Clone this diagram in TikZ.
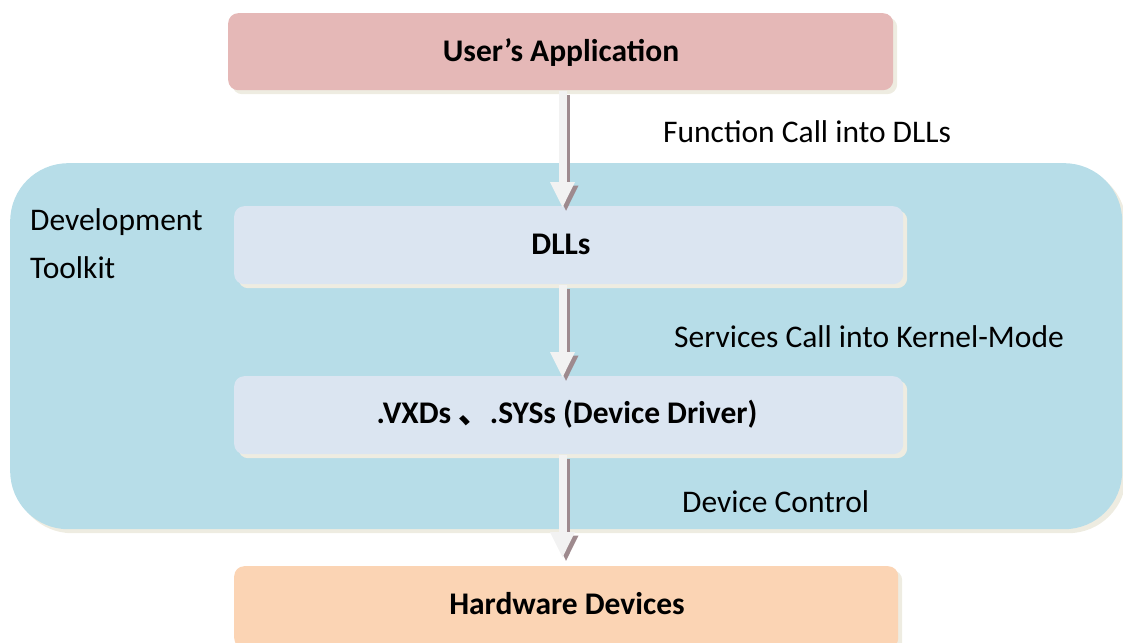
\documentclass[tikz,border=0pt]{standalone}
\usepackage{fontspec}
\setmainfont{Carlito}
\newfontfamily\cjk{Noto Sans CJK SC}
\usetikzlibrary{arrows.meta,shadows,calc}
\definecolor{pinkc}{HTML}{E5B8B7}
\definecolor{bluec}{HTML}{B7DDE8}
\definecolor{lightc}{HTML}{DBE5F1}
\definecolor{peachc}{HTML}{FBD4B4}
\definecolor{shadowc}{HTML}{EEECE1}
\definecolor{arrowc}{HTML}{F2F2F2}
\definecolor{arrowsh}{HTML}{9E8A8E}
\begin{document}
\begin{tikzpicture}[x=1pt,y=-1pt,
  box/.style={rounded corners=10pt, draw=none, inner sep=0pt, anchor=north west,
    drop shadow={shadow xshift=4pt, shadow yshift=-4pt, fill=shadowc, opacity=1}},
  lbl/.style={inner sep=0pt, font=\fontsize{31.5}{38}\selectfont},
  tipshape/.style={-{Triangle[width=23pt,length=26pt]}},
  arrsh/.style={draw=arrowsh, line width=8pt, tipshape},
  arr/.style={draw=arrowc, line width=8pt, tipshape}]
\useasboundingbox (0,0) rectangle (1123,642);
% main toolkit area
\node[box, rounded corners=58pt, fill=bluec, minimum width=1112pt, minimum height=366pt] (kit) at (10,163) {};
% boxes
\node[box, fill=pinkc, minimum width=665pt, minimum height=77pt] (ua) at (228,13) {};
\node[box, fill=lightc, minimum width=669pt, minimum height=78pt] (dll) at (234,206) {};
\node[box, fill=lightc, minimum width=669pt, minimum height=78pt] (vxd) at (234,376) {};
\node[box, fill=peachc, minimum width=664pt, minimum height=82pt] (hw) at (234,566) {};
% arrow axis
\coordinate (ax) at (562.5,0);
% arrows (shadow first, shifted right and down)
\draw[arrsh, shorten <=1pt, shorten >=-2pt] ($(ua.south -| ax)+(3.5,3.5)$) -- ($(dll.north -| ax)+(3.5,3.5)$);
\draw[arr, shorten <=1pt, shorten >=-2pt] (ua.south -| ax) -- (dll.north -| ax);
\draw[arrsh, shorten <=1pt, shorten >=-2pt] ($(dll.south -| ax)+(3.5,3.5)$) -- ($(vxd.north -| ax)+(3.5,3.5)$);
\draw[arr, shorten <=1pt, shorten >=-2pt] (dll.south -| ax) -- (vxd.north -| ax);
\draw[arrsh, shorten <=1pt, shorten >=8pt] ($(vxd.south -| ax)+(3.5,3.5)$) -- ($(hw.north -| ax)+(3.5,3.5)$);
\draw[arr, shorten <=1pt, shorten >=8pt] (vxd.south -| ax) -- (hw.north -| ax);
% titles
\node[lbl, anchor=base] (uat) at (561,61) {\bfseries User’s Application};
\node[lbl, anchor=base] (dllt) at (561,254) {\bfseries DLLs};
\node[lbl, anchor=base] (vxdt) at (567,423) {\bfseries .VXDs {\cjk 、}.SYSs (Device Driver)};
\node[lbl, anchor=base] (hwt) at (567,614) {\bfseries Hardware Devices};
% labels
\node[lbl, anchor=base west] (l1) at (663,142) {Function Call into DLLs};
\node[lbl, anchor=base west] (l2) at (674,347) {Services Call into Kernel-Mode};
\node[lbl, anchor=base west] (l3) at (682,512) {Device Control};
\node[lbl, anchor=base west] (dev1) at (30,230) {Development};
\node[lbl, anchor=base west] (dev2) at (30,278) {Toolkit};
\end{tikzpicture}
\end{document}
